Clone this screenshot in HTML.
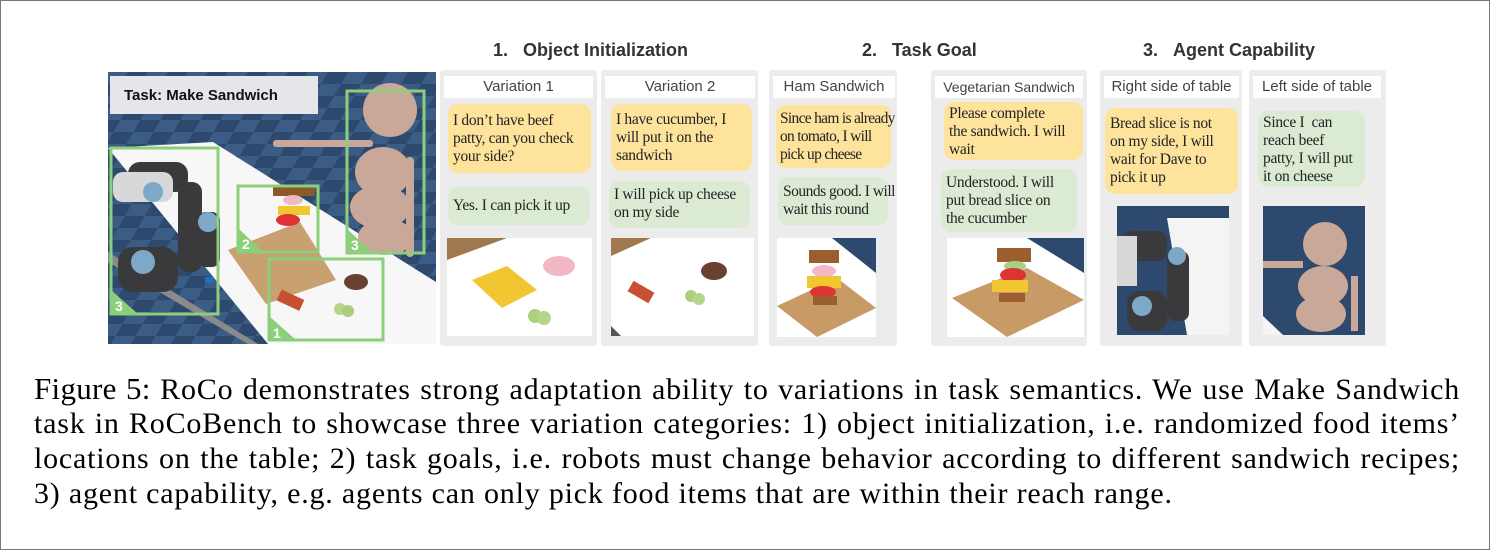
<!DOCTYPE html>
<html><head><meta charset="utf-8"><style>
*{margin:0;padding:0;box-sizing:border-box}
body{width:1490px;height:550px;background:#fff;position:relative;overflow:hidden;font-family:"Liberation Sans",sans-serif}
.frame{position:absolute;left:0;top:0;width:1490px;height:550px;border:1px solid #777}
.h{position:absolute;top:40px;font-weight:bold;font-size:18px;color:#333;white-space:nowrap}
.p{position:absolute;top:70px;height:276px;background:#ececec;border-radius:3px}
.t{position:absolute;top:76px;height:22px;background:#fff;font-size:15px;color:#444;text-align:center;line-height:22px;white-space:nowrap}
.b{position:absolute;font-family:"Liberation Serif",serif;font-size:15.5px;letter-spacing:-0.3px;line-height:18px;color:#222;padding:5px 5px;border-radius:10px;white-space:nowrap}
.y{background:#fde39c}.g{background:#dbebd3}
.im{position:absolute;background:#fff;overflow:hidden}
.cap{position:absolute;left:34px;width:1426px;font-family:"Liberation Serif",serif;font-size:30px;letter-spacing:0.8px;line-height:35px;color:#000}
.j{text-align:justify;text-align-last:justify;white-space:nowrap;height:35px}
</style></head><body>
<div class="frame"></div>
<div class="h" style="left:493px">1.&nbsp;&nbsp;&nbsp;Object Initialization</div>
<div class="h" style="left:862px">2.&nbsp;&nbsp;&nbsp;Task Goal</div>
<div class="h" style="left:1143px">3.&nbsp;&nbsp;&nbsp;Agent Capability</div>

<svg style="position:absolute;left:108px;top:72px" width="328" height="272" viewBox="0 0 328 272">
<defs><pattern id="ck" width="40" height="24" patternUnits="userSpaceOnUse" patternTransform="skewX(-30)"><rect width="40" height="24" fill="#2d4a6e"/><rect width="20" height="12" fill="#3b5c85"/><rect x="20" y="12" width="20" height="12" fill="#3b5c85"/></pattern></defs>
<rect width="328" height="272" fill="url(#ck)"/>
<polygon points="0,76 105,70 328,210 328,272 160,272" fill="#f7f7f7"/>
<polygon points="0,180 150,272 140,272 0,190" fill="#8a8a8a"/>
<polygon points="120,178 192,150 228,208 158,232" fill="#c9a070"/>
<rect x="2" y="4" width="208" height="38" fill="#e4e6ea"/>
<text x="16" y="28" font-family="Liberation Sans" font-weight="bold" font-size="15" fill="#111">Task: Make Sandwich</text>
<g fill="#3a3a3c"><rect x="20" y="90" width="60" height="30" rx="12"/><rect x="70" y="110" width="24" height="90" rx="10"/><rect x="90" y="140" width="22" height="55" rx="8"/><rect x="10" y="175" width="60" height="45" rx="15"/></g>
<rect x="5" y="100" width="60" height="30" rx="10" fill="#d8d8d8"/>
<g fill="#7ea8c8"><circle cx="35" cy="190" r="12"/><circle cx="100" cy="150" r="10"/><circle cx="45" cy="120" r="10"/><rect x="97" y="205" width="8" height="6" fill="#1e70c0"/></g>
<g fill="#c9a89a"><circle cx="282" cy="38" r="27"/><ellipse cx="275" cy="100" rx="28" ry="25"/><ellipse cx="272" cy="135" rx="30" ry="22"/><ellipse cx="278" cy="165" rx="28" ry="18"/><rect x="165" y="68" width="100" height="7" rx="3"/><rect x="298" y="85" width="8" height="100" rx="4"/></g>
<rect x="165" y="114" width="42" height="10" fill="#8b5a2b"/><ellipse cx="185" cy="128" rx="10" ry="5" fill="#f0b8c0"/><rect x="170" y="134" width="32" height="9" fill="#f2c630"/><ellipse cx="180" cy="148" rx="12" ry="6" fill="#d33"/>
<ellipse cx="248" cy="210" rx="12" ry="8" fill="#6a4030"/><rect x="170" y="222" width="25" height="12" fill="#c85030" transform="rotate(25 182 228)"/><circle cx="232" cy="237" r="6" fill="#b5d58a"/><circle cx="240" cy="239" r="6" fill="#a8cc80"/>
<g fill="none" stroke="#8ccf7a" stroke-width="3"><rect x="3" y="76" width="107" height="166"/><rect x="130" y="114" width="80" height="66"/><rect x="239" y="19" width="77" height="162"/><rect x="161" y="187" width="114" height="81"/></g>
<g fill="#8ccf7a"><polygon points="3,218 3,242 30,242"/><polygon points="130,156 130,180 155,180"/><polygon points="239,157 239,181 265,181"/><polygon points="161,244 161,268 188,268"/></g>
<g fill="#fff" font-family="Liberation Sans" font-weight="bold" font-size="14"><text x="7" y="239">3</text><text x="134" y="177">2</text><text x="243" y="178">3</text><text x="165" y="266">1</text></g>
</svg>

<div class="p" style="left:440px;width:157px"></div>
<div class="p" style="left:601px;width:157px"></div>
<div class="p" style="left:769px;width:128px"></div>
<div class="p" style="left:931px;width:156px"></div>
<div class="p" style="left:1100px;width:142px"></div>
<div class="p" style="left:1249px;width:137px"></div>

<div class="t" style="left:444px;width:149px">Variation 1</div>
<div class="t" style="left:605px;width:150px">Variation 2</div>
<div class="t" style="left:773px;width:122px">Ham Sandwich</div>
<div class="t" style="left:935px;width:148px;font-size:14px">Vegetarian Sandwich</div>
<div class="t" style="left:1104px;width:135px">Right side of table</div>
<div class="t" style="left:1253px;width:128px">Left side of table</div>

<div class="b y" style="left:448px;top:104px;width:143px;height:69px;padding-top:8px">I don’t have beef<br>patty, can you check<br>your side?</div>
<div class="b g" style="left:448px;top:187px;width:142px;height:38px;padding-top:10px">Yes. I can pick it up</div>
<div class="b y" style="left:611px;top:104px;width:141px;height:67px;padding-top:7px">I have cucumber, I<br>will put it on the<br>sandwich</div>
<div class="b g" style="left:609px;top:181px;width:141px;height:47px">I will pick up cheese<br>on my side</div>
<div class="b y" style="left:776px;top:105px;width:115px;height:63px;padding-left:4px;letter-spacing:-0.7px">Since ham is already<br>on tomato, I will<br>pick up cheese</div>
<div class="b g" style="left:778px;top:177px;width:110px;height:48px;padding-top:6px;letter-spacing:-0.5px">Sounds good. I will<br>wait this round</div>
<div class="b y" style="left:944px;top:102px;width:139px;height:58px;padding-top:3px">Please complete<br>the sandwich. I will<br>wait</div>
<div class="b g" style="left:941px;top:169px;width:136px;height:63px;padding-top:5px">Understood. I will<br>put bread slice on<br>the cucumber</div>
<div class="b y" style="left:1105px;top:108px;width:133px;height:86px;padding-top:7px">Bread slice is not<br>on my side, I will<br>wait for Dave to<br>pick it up</div>
<div class="b g" style="left:1258px;top:111px;width:107px;height:76px;padding-top:3px">Since I&nbsp; can<br>reach beef<br>patty, I will put<br>it on cheese</div>

<svg class="im" style="left:447px;top:238px" width="145" height="98"><polygon points="0,0 60,0 0,22" fill="#a07850"/><polygon points="25,42 60,28 90,52 55,70" fill="#f2c630"/><ellipse cx="112" cy="28" rx="16" ry="10" fill="#f3b8c3"/><circle cx="88" cy="78" r="7" fill="#aad080"/><circle cx="97" cy="80" r="7" fill="#b5d58a"/></svg>
<svg class="im" style="left:611px;top:238px" width="143" height="98"><polygon points="0,0 40,0 0,18" fill="#a07850"/><rect x="18" y="48" width="24" height="12" fill="#c85030" transform="rotate(30 30 54)"/><ellipse cx="103" cy="33" rx="13" ry="9" fill="#6a4030"/><circle cx="80" cy="58" r="6" fill="#aad080"/><circle cx="88" cy="61" r="6" fill="#b5d58a"/><polygon points="0,88 10,98 0,98" fill="#555"/></svg>
<svg class="im" style="left:777px;top:238px" width="99" height="99"><polygon points="55,0 99,0 99,35" fill="#2d4a6e"/><polygon points="0,68 60,40 99,70 40,99" fill="#c89a65"/><rect x="32" y="12" width="30" height="13" fill="#9b5f2f"/><ellipse cx="47" cy="33" rx="12" ry="6" fill="#f3b8c3"/><rect x="30" y="38" width="34" height="12" fill="#f2c630"/><ellipse cx="46" cy="54" rx="13" ry="6" fill="#d33"/><rect x="36" y="58" width="24" height="9" fill="#9b5f2f"/></svg>
<svg class="im" style="left:947px;top:238px" width="137" height="99"><polygon points="80,0 137,0 137,35" fill="#2d4a6e"/><polygon points="5,60 80,30 137,62 60,99" fill="#c89a65"/><rect x="50" y="10" width="34" height="14" fill="#9b5f2f"/><ellipse cx="68" cy="28" rx="11" ry="5" fill="#a8d080"/><ellipse cx="66" cy="37" rx="13" ry="7" fill="#d33"/><rect x="45" y="42" width="36" height="12" fill="#f2c630"/><rect x="52" y="55" width="26" height="9" fill="#9b5f2f"/></svg>
<svg class="im" style="left:1117px;top:206px" width="112" height="129"><rect width="112" height="129" fill="#2d4a6e"/><polygon points="50,12 112,12 112,129 70,129" fill="#f4f4f4"/><rect x="5" y="25" width="45" height="30" rx="10" fill="#3a3a3c"/><rect x="0" y="30" width="20" height="50" fill="#d8d8d8"/><rect x="50" y="45" width="22" height="70" rx="8" fill="#3a3a3c"/><rect x="10" y="85" width="40" height="40" rx="12" fill="#3a3a3c"/><circle cx="25" cy="100" r="10" fill="#7ea8c8"/><circle cx="60" cy="50" r="9" fill="#7ea8c8"/></svg>
<svg class="im" style="left:1263px;top:206px" width="102" height="129"><rect width="102" height="129" fill="#2d4a6e"/><circle cx="62" cy="38" r="22" fill="#c9a89a"/><ellipse cx="60" cy="80" rx="25" ry="20" fill="#c9a89a"/><ellipse cx="58" cy="108" rx="25" ry="18" fill="#c9a89a"/><rect x="0" y="55" width="40" height="7" fill="#c9a89a"/><rect x="88" y="70" width="7" height="55" fill="#c9a89a"/><polygon points="0,110 20,129 0,129" fill="#f4f4f4"/></svg>

<div class="cap" style="top:371px">
<div class="j"><span style="font-size:31px;letter-spacing:0.3px">Figure 5:</span> RoCo demonstrates strong adaptation ability to variations in task semantics. We use Make Sandwich</div>
<div class="j">task in RoCoBench to showcase three variation categories: 1) object initialization, i.e. randomized food items’</div>
<div class="j">locations on the table; 2) task goals, i.e. robots must change behavior according to different sandwich recipes;</div>
<div style="white-space:nowrap">3) agent capability, e.g. agents can only pick food items that are within their reach range.</div>
</div>
</body></html>
